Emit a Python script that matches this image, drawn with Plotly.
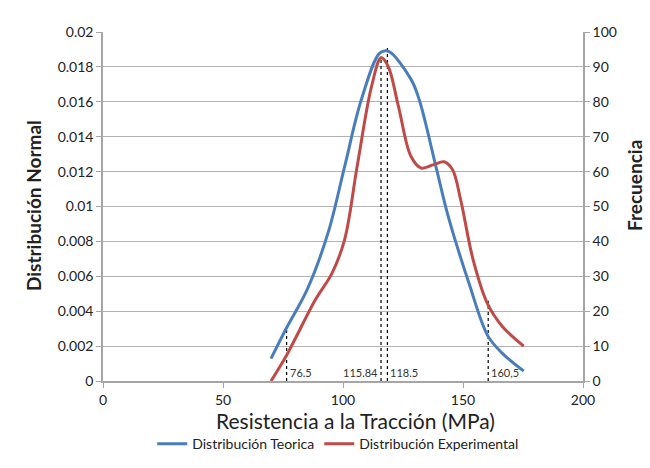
import plotly.graph_objects as go

# Theoretical normal distribution (left axis)
teo_x = [70, 76.5, 85.1, 93.8, 100.7, 107.6, 115.4, 118.8, 128.3, 131.8, 138.7, 143.9, 152.5, 160.3, 166.3, 175.3]
teo_y = [0.00128, 0.00305, 0.00525, 0.0085, 0.0123, 0.0161, 0.0188, 0.0189, 0.0173, 0.0161, 0.0123, 0.0094, 0.0056, 0.0026, 0.0016, 0.00057]

# Experimental frequency (right axis)
exp_x = [70, 76.5, 88.6, 95.5, 100.7, 105.9, 111.9, 115.9, 118.8, 123.1, 128.3, 132.6, 137.8, 142.1, 145.6, 149, 154.2, 160.3, 166.3, 175.3]
exp_y = [0, 7.4, 23.4, 31, 40.6, 61.5, 84.4, 92.6, 90.2, 78.7, 64.4, 61, 62, 62.8, 60.6, 52, 34.8, 22, 15.7, 10]

# Reference markers (dashed verticals)
mark_x = [76.5, 115.84, 118.5, 160.5]
mark_top = [0.0030, 0.0186, 0.0191, 0.0046]
mark_labels = ["76.5", "115.84", "118.5", "160,5"]
mark_anchor = ["left", "right", "left", "left"]

left_ticks = [0, 0.002, 0.004, 0.006, 0.008, 0.01, 0.012, 0.014, 0.016, 0.018, 0.02]
left_ticktext = ["0", "0.002", "0.004", "0.006", "0.008", "0.01", "0.012", "0.014", "0.016", "0.018", "0.02"]

FONT = "Lato"
fig = go.Figure()

for mx, mt in zip(mark_x, mark_top):
    fig.add_trace(go.Scatter(x=[mx, mx], y=[0, mt], mode="lines",
                             line=dict(color="black", width=1.2, dash="dot"),
                             showlegend=False, hoverinfo="skip"))

fig.add_trace(go.Scatter(x=teo_x, y=teo_y, mode="lines", name="Distribución Teorica",
                         line=dict(color="#4a7ebb", width=3, shape="spline", smoothing=1.0)))
fig.add_trace(go.Scatter(x=exp_x, y=exp_y, mode="lines", name="Distribución Experimental",
                         yaxis="y2",
                         line=dict(color="#be4b48", width=3, shape="spline", smoothing=1.0)))

for mx, lab, anc in zip(mark_x, mark_labels, mark_anchor):
    fig.add_annotation(x=mx, y=0.00046, text=lab, showarrow=False, xanchor=anc,
                       xshift=1 if anc == "left" else -1,
                       font=dict(family=FONT, size=11, color="#333333"))

# Axis titles as annotations (positioned like the reference)
fig.add_annotation(xref="paper", yref="paper", x=0.526, y=-0.112, text="Resistencia a la Tracción (MPa)",
                   showarrow=False, xanchor="center", yanchor="middle",
                   font=dict(family=FONT, size=21, color="#222222"))
fig.add_annotation(xref="paper", yref="paper", x=-0.146, y=0.504, text="<b>Distribución Normal</b>",
                   showarrow=False, textangle=-90, xanchor="center", yanchor="middle",
                   font=dict(family=FONT, size=19, color="#222222"))
fig.add_annotation(xref="paper", yref="paper", x=1.1085, y=0.559, text="<b>Frecuencia</b>",
                   showarrow=False, textangle=-90, xanchor="center", yanchor="middle",
                   font=dict(family=FONT, size=19, color="#222222"))

fig.update_layout(
    width=650, height=468,
    margin=dict(l=103, r=67, t=32, b=87, autoexpand=False),
    paper_bgcolor="white", plot_bgcolor="white",
    font=dict(family=FONT, size=14, color="#222222"),
    xaxis=dict(range=[0, 200], tickvals=[0, 50, 100, 150, 200], showgrid=False,
               showline=True, linecolor="#a6a6a6", linewidth=1.5,
               ticks="outside", ticklen=5, tickcolor="#a6a6a6", zeroline=False,
               automargin=False),
    yaxis=dict(range=[0, 0.02], tickvals=left_ticks, ticktext=left_ticktext,
               showgrid=True, gridcolor="#b3b3b3", gridwidth=1.2,
               showline=True, linecolor="#a6a6a6", linewidth=1.5,
               ticks="outside", ticklen=5, tickcolor="#a6a6a6", zeroline=False,
               automargin=False),
    yaxis2=dict(range=[0, 100], tickvals=list(range(0, 101, 10)), overlaying="y", side="right",
                showgrid=False, showline=True, linecolor="#a6a6a6", linewidth=1.5,
                ticks="outside", ticklen=5, tickcolor="#a6a6a6", zeroline=False,
                automargin=False),
    legend=dict(orientation="h", x=0.49, xanchor="center", y=-0.135, yanchor="top",
                font=dict(family=FONT, size=14), itemwidth=30, tracegroupgap=0),
    showlegend=True,
)

fig.write_html("out.html")
